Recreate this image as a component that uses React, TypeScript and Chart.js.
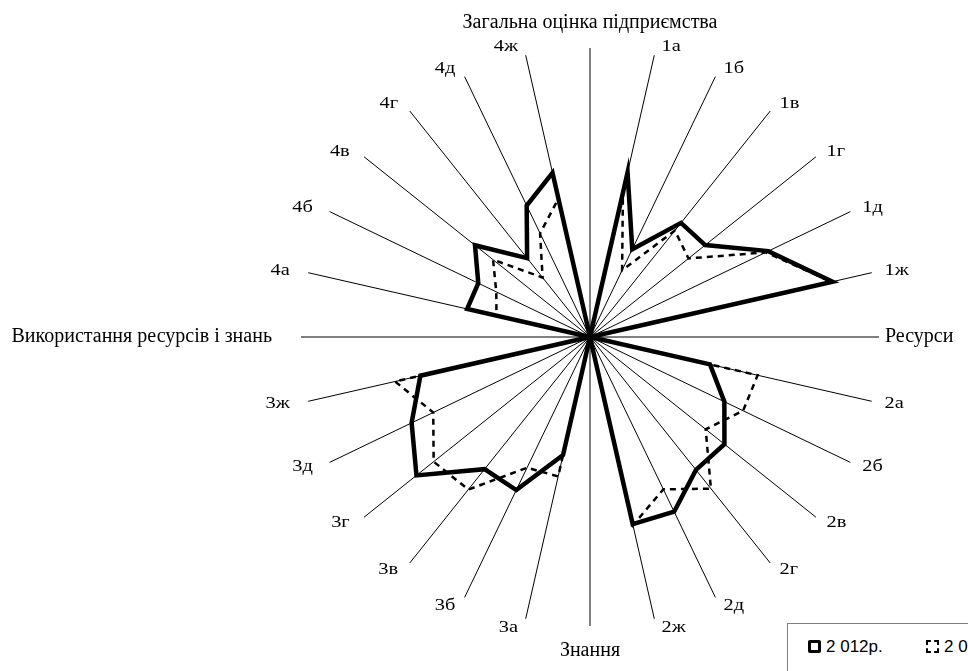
import React, { useEffect, useRef } from "react";
import { Chart, registerables } from "chart.js";

Chart.register(...registerables);

const categories: string[] = [
  "Загальна оцінка підприємства",
  "1а", "1б", "1в", "1г", "1д", "1ж",
  "Ресурси",
  "2а", "2б", "2в", "2г", "2д", "2ж",
  "Знання",
  "3а", "3б", "3в", "3г", "3д", "3ж",
  "Використання ресурсів і знань",
  "4а", "4б", "4в", "4г", "4д", "4ж",
];

const seriesNames: string[] = ["2 012р.", "2 011р."];

const values2012: number[] = [
  0, 58.4, 33.7, 50.5, 51.0, 68.5, 86.1,
  0, 42.6, 51.6, 59.5, 58.8, 67.1, 66.4,
  0, 41.9, 58.8, 58.5, 76.8, 68.5, 60.2,
  0, 43.6, 42.9, 50.9, 34.9, 50.5, 58.3,
];

const values2011: number[] = [
  0, 51.2, 25.6, 47.1, 43.6, 67.5, 85.8,
  0, 59.5, 58.8, 51.2, 67.1, 58.5, 66.8,
  0, 49.5, 50.2, 67.5, 69.2, 60.2, 69.2,
  0, 33.2, 36.0, 42.9, 26.3, 39.8, 49.1,
];

const scaleMin = 0;
const scaleMax = 100;

const SERIF = "'Times New Roman', 'Liberation Serif', serif";

const spokeLabelPlugin = {
  id: "spokeLabels",
  afterDraw(chart: any) {
    const scale = chart.scales.r;
    const ctx: CanvasRenderingContext2D = chart.ctx;
    const n = categories.length;
    const R = scale.drawingArea;
    ctx.save();
    ctx.fillStyle = "#000";
    for (let i = 0; i < n; i++) {
      const p = scale.getPointPosition(i, R);
      const ang = (i / n) * Math.PI * 2;
      const s = Math.sin(ang);
      const c = Math.cos(ang);
      const text = categories[i];
      if (i % 7 === 0) {
        ctx.font = `20px ${SERIF}`;
        if (i === 0) {
          ctx.textAlign = "center";
          ctx.textBaseline = "alphabetic";
          ctx.fillText(text, p.x, p.y - 20);
        } else if (i === 14) {
          ctx.textAlign = "center";
          ctx.textBaseline = "alphabetic";
          ctx.fillText(text, p.x, p.y + 30);
        } else if (i === 7) {
          ctx.textAlign = "left";
          ctx.textBaseline = "middle";
          ctx.fillText(text, p.x + 6, p.y);
        } else {
          ctx.textAlign = "right";
          ctx.textBaseline = "middle";
          ctx.fillText(text, p.x - 29, p.y);
        }
      } else {
        ctx.font = `17px ${SERIF}`;
        ctx.textAlign = s > 0 ? "left" : "right";
        ctx.textBaseline = "middle";
        const dx = s > 0 ? 7 + 6 * s * s : -(7 + 12 * s * s);
        ctx.save();
        ctx.translate(p.x + dx, p.y - c * 9);
        ctx.scale(1.2, 1);
        ctx.fillText(text, 0, 0);
        ctx.restore();
      }
    }
    ctx.restore();
  },
};

export default function App() {
  const canvasRef = useRef<HTMLCanvasElement>(null);

  useEffect(() => {
    if (!canvasRef.current) return;
    const chart = new Chart(canvasRef.current, {
      type: "radar",
      data: {
        labels: categories,
        datasets: [
          {
            label: seriesNames[0],
            data: values2012,
            borderColor: "#000",
            borderWidth: 4.5,
            fill: false,
            pointRadius: 0,
            borderJoinStyle: "miter",
          },
          {
            label: seriesNames[1],
            data: values2011,
            borderColor: "#000",
            borderWidth: 2.5,
            borderDash: [6, 5],
            fill: false,
            pointRadius: 0,
            borderJoinStyle: "miter",
          },
        ],
      },
      options: {
        responsive: false,
        animation: false,
        layout: { padding: { left: 301, right: 89, top: 48, bottom: 45 } },
        plugins: {
          legend: { display: false },
          tooltip: { enabled: false },
        },
        elements: { line: { tension: 0 }, point: { radius: 0 } },
        scales: {
          r: {
            min: scaleMin,
            max: scaleMax,
            startAngle: 0,
            grid: { display: false },
            angleLines: { display: true, color: "#000", lineWidth: 1 },
            ticks: { display: false },
            pointLabels: { display: false },
          },
        },
      },
      plugins: [spokeLabelPlugin],
    } as any);
    return () => chart.destroy();
  }, []);

  const iconBase: React.CSSProperties = {
    display: "inline-block",
    width: 13,
    height: 13,
    boxSizing: "border-box",
    marginRight: 5,
    verticalAlign: "middle",
  };

  return (
    <div
      style={{
        position: "fixed",
        left: 0,
        top: 0,
        width: 968,
        height: 671,
        overflow: "hidden",
        background: "#fff",
      }}
    >
      <canvas
        ref={canvasRef}
        width={968}
        height={671}
        style={{ position: "absolute", left: 0, top: 0, width: 968, height: 671 }}
      />
      <div
        style={{
          position: "absolute",
          left: 787,
          top: 623,
          width: 320,
          height: 120,
          border: "1px solid #7f7f7f",
          background: "#fff",
          fontFamily: "Arial, 'Liberation Sans', sans-serif",
          fontSize: 17,
          color: "#000",
          whiteSpace: "nowrap",
        }}
      >
        <div style={{ position: "absolute", left: 20, top: 12, lineHeight: "20px" }}>
          <span style={{ ...iconBase, border: "3.5px solid #000", borderRadius: 2 }} />
          <span style={{ verticalAlign: "middle" }}>{seriesNames[0]}</span>
        </div>
        <div style={{ position: "absolute", left: 138, top: 12, lineHeight: "20px" }}>
          <span style={{ ...iconBase, border: "2.5px dashed #000" }} />
          <span style={{ verticalAlign: "middle" }}>{seriesNames[1]}</span>
        </div>
      </div>
    </div>
  );
}
